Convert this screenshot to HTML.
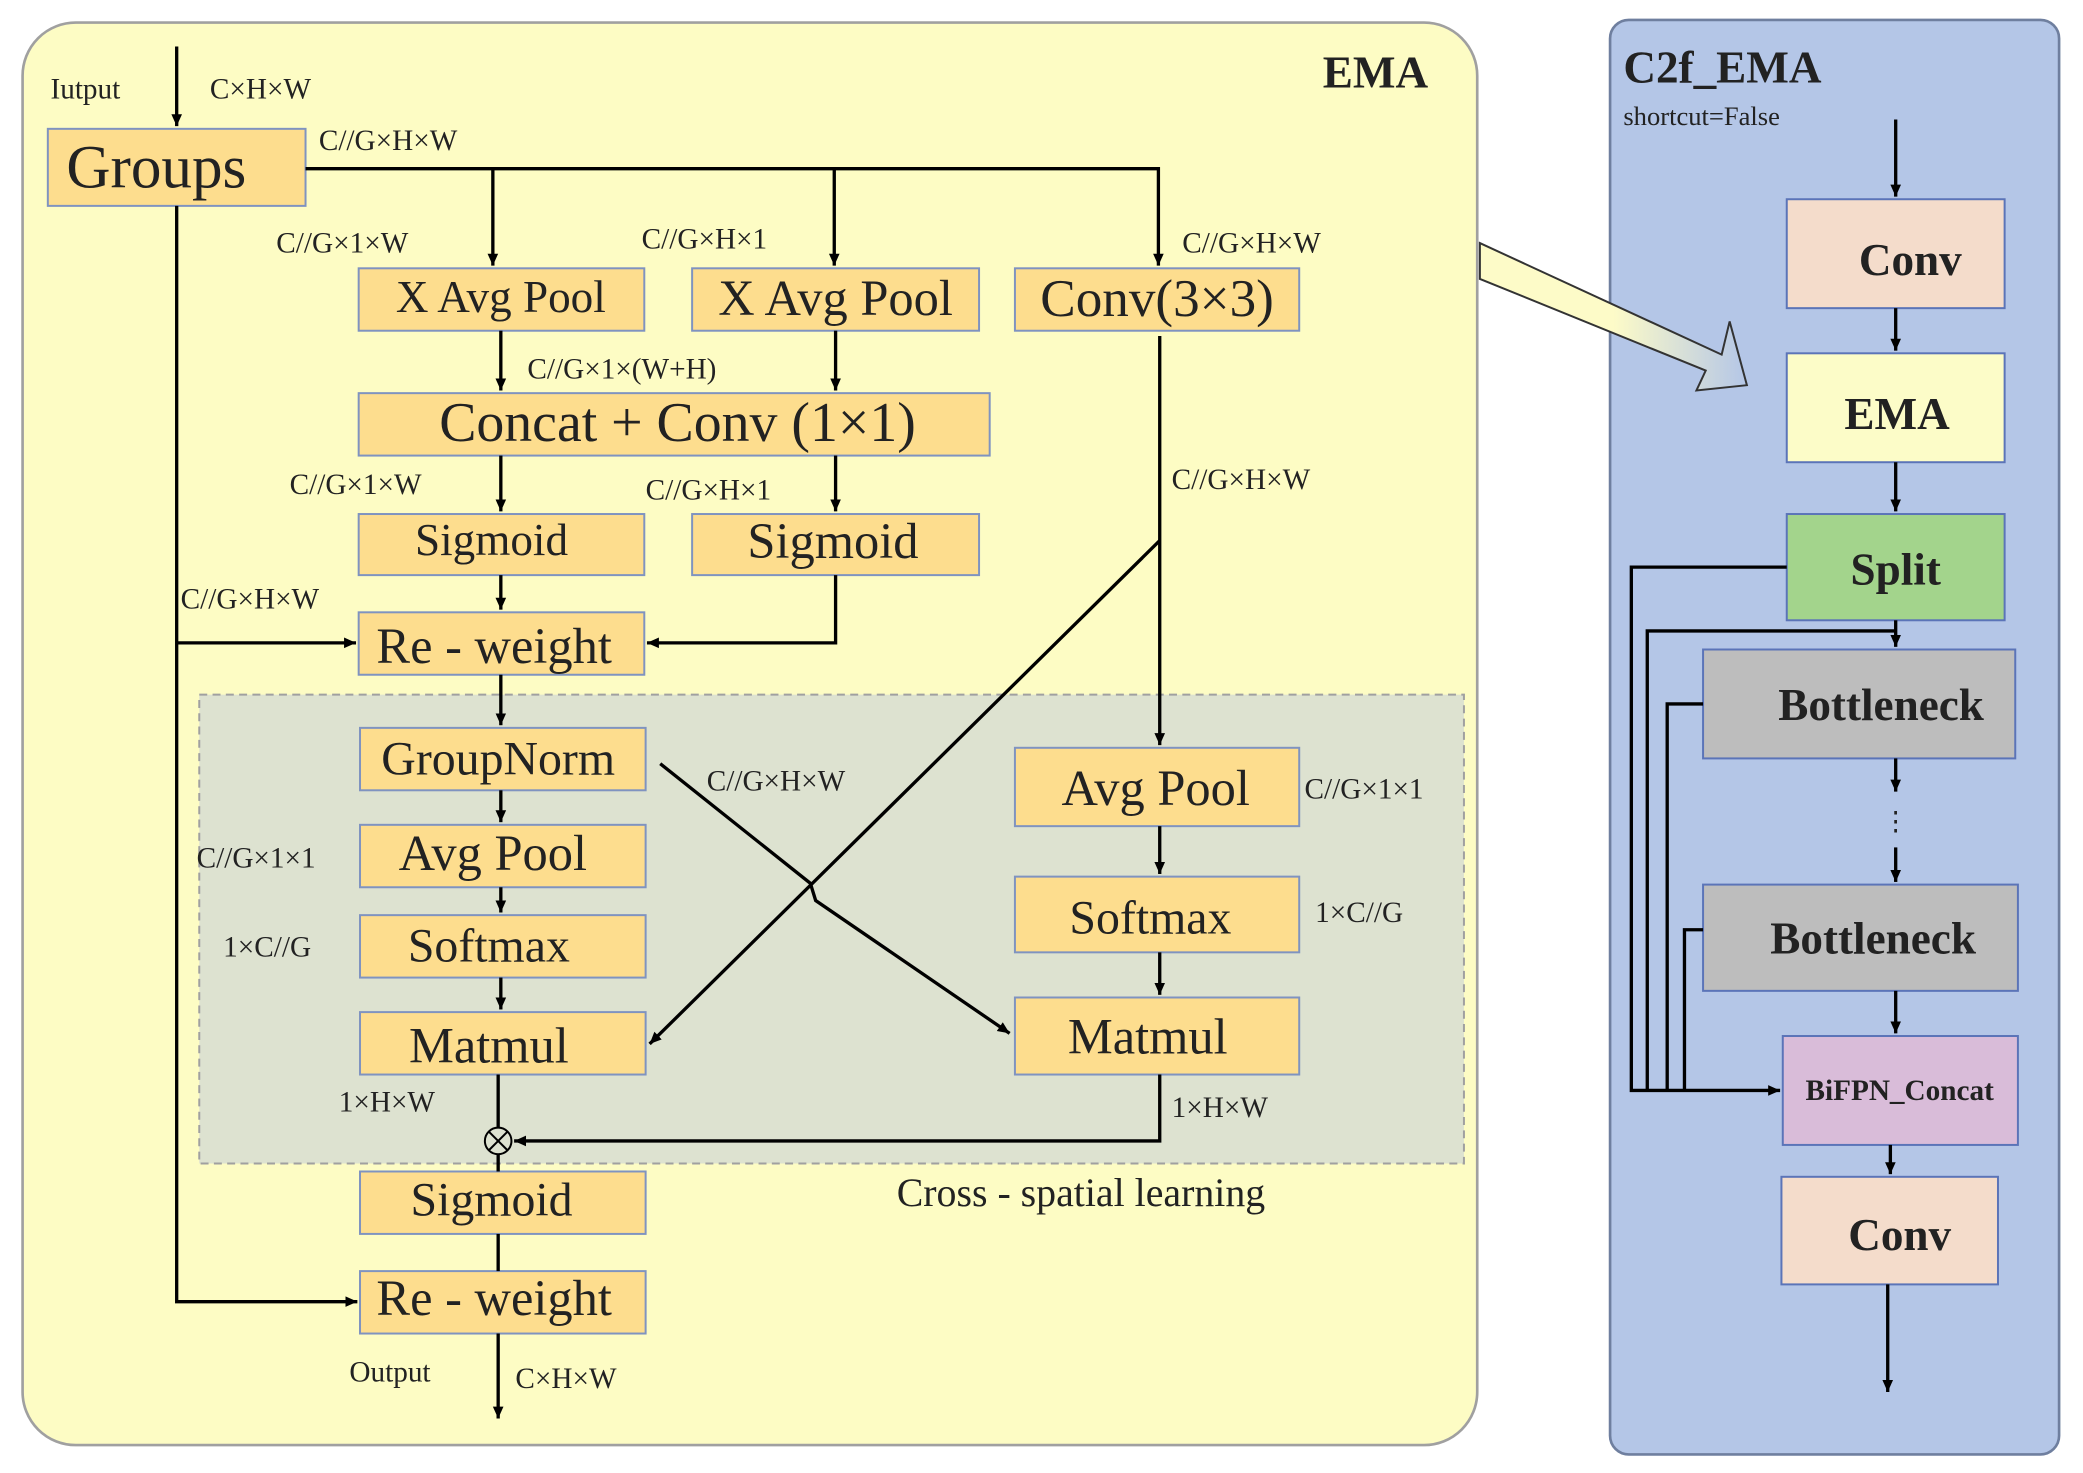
<!DOCTYPE html>
<html><head><meta charset="utf-8"><style>
html,body{margin:0;padding:0;background:#fff;}
svg{display:block;}
text{font-family:"Liberation Serif",serif;fill:#222;}
</style></head><body>
<svg width="2083" height="1473" viewBox="0 0 1568 1109" preserveAspectRatio="none" xmlns="http://www.w3.org/2000/svg">
<defs>
<marker id="a" markerWidth="10" markerHeight="10" refX="9" refY="5" orient="auto" markerUnits="userSpaceOnUse"><path d="M0,1 L9,5 L0,9 Z" fill="#000"/></marker>
<linearGradient id="g" x1="0" y1="0" x2="1" y2="0"><stop offset="0" stop-color="#fdfbc8"/><stop offset="0.5" stop-color="#fdfbc8"/><stop offset="1" stop-color="#b4c6e7"/></linearGradient>
</defs>
<rect width="1568" height="1109" fill="#fff"/>
<!-- EMA panel -->
<rect x="17" y="17" width="1095" height="1071" rx="40" fill="#fdfcc4" stroke="#a0a0a0" stroke-width="2"/>
<!-- C2f panel -->
<rect x="1212" y="15" width="338" height="1080" rx="14" fill="#b4c6e7" stroke="#6f7f9f" stroke-width="2"/>
<!-- big arrow -->
<polygon points="1114,183 1296,267 1302,242 1315,290 1277,294 1284,279 1114,210" fill="url(#g)" stroke="#333" stroke-width="1.5"/>
<!-- gray area -->
<rect x="150" y="523" width="952" height="353" fill="#dde2d0" stroke="#a0a0a0" stroke-width="1.5" stroke-dasharray="6,4"/>
<text x="1075" y="66" font-size="34" font-weight="bold" text-anchor="end">EMA</text>
<g fill="#fddd8e" stroke="#7f93c0" stroke-width="1.5">
<rect x="36" y="97" width="194" height="58"/>
<rect x="270" y="202" width="215" height="47"/>
<rect x="521" y="202" width="216" height="47"/>
<rect x="764" y="202" width="214" height="47"/>
<rect x="270" y="296" width="475" height="47"/>
<rect x="270" y="387" width="215" height="46"/>
<rect x="521" y="387" width="216" height="46"/>
<rect x="270" y="461" width="215" height="47"/>
<rect x="271" y="548" width="215" height="47"/>
<rect x="271" y="621" width="215" height="47"/>
<rect x="271" y="689" width="215" height="47"/>
<rect x="271" y="762" width="215" height="47"/>
<rect x="764" y="563" width="214" height="59"/>
<rect x="764" y="660" width="214" height="57"/>
<rect x="764" y="751" width="214" height="58"/>
<rect x="271" y="882" width="215" height="47"/>
<rect x="271" y="957" width="215" height="47"/>
</g>
<g font-size="46"><text x="50" y="141">Groups</text></g>
<g font-size="34">
<text x="377" y="235" text-anchor="middle">X  Avg   Pool</text>
<text x="629" y="237" text-anchor="middle" font-size="38">X Avg Pool</text>
<text x="871" y="238" text-anchor="middle" font-size="40">Conv(3×3)</text>
<text x="510" y="332" text-anchor="middle" font-size="42">Concat  + Conv (1×1)</text>
<text x="370" y="418" text-anchor="middle">Sigmoid</text>
<text x="627" y="420" text-anchor="middle" font-size="38">Sigmoid</text>
<text x="372" y="499" text-anchor="middle" font-size="38">Re - weight</text>
<text x="375" y="583" text-anchor="middle" font-size="36">GroupNorm</text>
<text x="371" y="655" text-anchor="middle" font-size="38">Avg Pool</text>
<text x="368" y="724" text-anchor="middle" font-size="36">Softmax</text>
<text x="368" y="800" text-anchor="middle" font-size="38">Matmul</text>
<text x="870" y="606" text-anchor="middle" font-size="38">Avg Pool</text>
<text x="866" y="703" text-anchor="middle" font-size="36">Softmax</text>
<text x="864" y="793" text-anchor="middle" font-size="38">Matmul</text>
<text x="370" y="915" text-anchor="middle" font-size="36">Sigmoid</text>
<text x="372" y="990" text-anchor="middle" font-size="38">Re - weight</text>
</g>
<g font-size="22">
<text x="38" y="74">Iutput</text>
<text x="158" y="74">C×H×W</text>
<text x="240" y="113">C//G×H×W</text>
<text x="208" y="190">C//G×1×W</text>
<text x="483" y="187">C//G×H×1</text>
<text x="890" y="190">C//G×H×W</text>
<text x="397" y="285">C//G×1×(W+H)</text>
<text x="218" y="372">C//G×1×W</text>
<text x="486" y="376">C//G×H×1</text>
<text x="882" y="368">C//G×H×W</text>
<text x="136" y="458">C//G×H×W</text>
<text x="532" y="595">C//G×H×W</text>
<text x="982" y="601">C//G×1×1</text>
<text x="148" y="653">C//G×1×1</text>
<text x="990" y="694">1×C//G</text>
<text x="168" y="720">1×C//G</text>
<text x="255" y="837">1×H×W</text>
<text x="882" y="841">1×H×W</text>
<text x="263" y="1040">Output</text>
<text x="388" y="1045">C×H×W</text>
</g>
<text x="675" y="908" font-size="30">Cross - spatial learning</text>
<g stroke="#000" stroke-width="2.5" fill="none">
<line x1="133" y1="35" x2="133" y2="95" marker-end="url(#a)"/>
<polyline points="230,127 872,127 872,200" marker-end="url(#a)"/>
<line x1="371" y1="127" x2="371" y2="200" marker-end="url(#a)"/>
<line x1="628" y1="127" x2="628" y2="200" marker-end="url(#a)"/>
<line x1="377" y1="249" x2="377" y2="294" marker-end="url(#a)"/>
<line x1="629" y1="249" x2="629" y2="294" marker-end="url(#a)"/>
<line x1="377" y1="343" x2="377" y2="385" marker-end="url(#a)"/>
<line x1="629" y1="343" x2="629" y2="385" marker-end="url(#a)"/>
<line x1="377" y1="433" x2="377" y2="459" marker-end="url(#a)"/>
<polyline points="629,433 629,484 487,484" marker-end="url(#a)"/>
<polyline points="133,155 133,980 269,980" marker-end="url(#a)"/>
<line x1="133" y1="484" x2="268" y2="484" marker-end="url(#a)"/>
<line x1="377" y1="508" x2="377" y2="546" marker-end="url(#a)"/>
<line x1="377" y1="595" x2="377" y2="619" marker-end="url(#a)"/>
<line x1="377" y1="668" x2="377" y2="687" marker-end="url(#a)"/>
<line x1="377" y1="736" x2="377" y2="760" marker-end="url(#a)"/>
<line x1="375" y1="809" x2="375" y2="849"/>
<line x1="375" y1="869" x2="375" y2="882"/>
<line x1="375" y1="929" x2="375" y2="957"/>
<line x1="375" y1="1004" x2="375" y2="1068" marker-end="url(#a)"/>
<line x1="873" y1="253" x2="873" y2="561" marker-end="url(#a)"/>
<line x1="873" y1="407" x2="489" y2="786" marker-end="url(#a)"/>
<polyline points="497,575 610,665 614,678 760,778" marker-end="url(#a)"/>
<line x1="873" y1="622" x2="873" y2="658" marker-end="url(#a)"/>
<line x1="873" y1="717" x2="873" y2="749" marker-end="url(#a)"/>
<polyline points="873,809 873,859 387,859" marker-end="url(#a)"/>
</g>
<circle cx="375" cy="859" r="10" fill="none" stroke="#000" stroke-width="1.5"/>
<path d="M368,852 L382,866 M382,852 L368,866" stroke="#000" stroke-width="1.5"/>
<!-- C2f -->
<text x="1222" y="62" font-size="34" font-weight="bold" fill="#333">C2f_EMA</text>
<text x="1222" y="94" font-size="20" fill="#333">shortcut=False</text>
<g stroke="#5b74b8" stroke-width="1.5">
<rect x="1345" y="150" width="164" height="82" fill="#f4dccb"/>
<rect x="1345" y="266" width="164" height="82" fill="#fcfcc8"/>
<rect x="1345" y="387" width="164" height="80" fill="#a3d48c"/>
<rect x="1282" y="489" width="235" height="82" fill="#bdbdbd"/>
<rect x="1282" y="666" width="237" height="80" fill="#bdbdbd"/>
<rect x="1342" y="780" width="177" height="82" fill="#d9bcd9"/>
<rect x="1341" y="886" width="163" height="81" fill="#f4dccb"/>
</g>
<g font-size="34" font-weight="bold" fill="#333" text-anchor="middle">
<text x="1438" y="207">Conv</text>
<text x="1428" y="323">EMA</text>
<text x="1427" y="440">Split</text>
<text x="1416" y="542">Bottleneck</text>
<text x="1410" y="718">Bottleneck</text>
<text x="1430" y="941">Conv</text>
<text x="1430" y="828" font-size="22">BiFPN_Concat</text>
</g>
<g stroke="#000" stroke-width="2.5" fill="none">
<line x1="1427" y1="90" x2="1427" y2="148" marker-end="url(#a)"/>
<line x1="1427" y1="232" x2="1427" y2="264" marker-end="url(#a)"/>
<line x1="1427" y1="348" x2="1427" y2="385" marker-end="url(#a)"/>
<line x1="1427" y1="467" x2="1427" y2="487" marker-end="url(#a)"/>
<line x1="1427" y1="571" x2="1427" y2="596" marker-end="url(#a)"/>
<line x1="1427" y1="638" x2="1427" y2="664" marker-end="url(#a)"/>
<line x1="1427" y1="746" x2="1427" y2="778" marker-end="url(#a)"/>
<line x1="1423" y1="862" x2="1423" y2="884" marker-end="url(#a)"/>
<line x1="1421" y1="967" x2="1421" y2="1048" marker-end="url(#a)"/>
<polyline points="1345,427 1228,427 1228,821 1340,821" marker-end="url(#a)"/>
<polyline points="1427,475 1240,475 1240,821"/>
<polyline points="1282,530 1255,530 1255,821"/>
<polyline points="1282,700 1268,700 1268,821"/>
</g>
<text x="1427" y="625" font-size="20" text-anchor="middle">⋮</text>
</svg>
</body></html>
